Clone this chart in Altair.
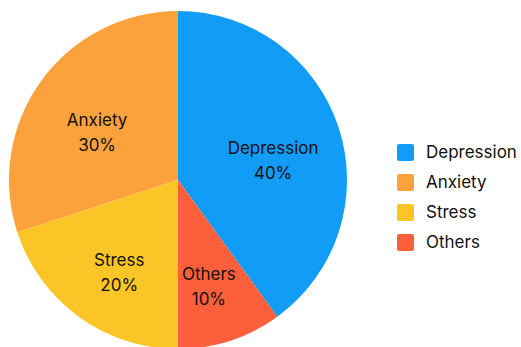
import altair as alt
import pandas as pd

categories = ["Depression", "Anxiety", "Stress", "Others"]
values = [40, 30, 20, 10]
colors = ["#119cf7", "#fba23d", "#fcc527", "#fd5f3b"]
clockwise_order = ["Depression", "Others", "Stress", "Anxiety"]

df = pd.DataFrame({
    "category": categories,
    "value": values,
    "rank": [clockwise_order.index(c) for c in categories],
})
df["label"] = [f"{c}\n{v}%" for c, v in zip(categories, values)]

FONT = "Inter"
rounded_square = ("M -0.75 -1 L 0.75 -1 Q 1 -1 1 -0.75 L 1 0.75 Q 1 1 0.75 1 "
                  "L -0.75 1 Q -1 1 -1 0.75 L -1 -0.75 Q -1 -1 -0.75 -1 Z")

base = alt.Chart(df).encode(
    theta=alt.Theta("value:Q", stack=True),
    order=alt.Order("rank:Q"),
    x=alt.value(178),
    y=alt.value(180),
)

arcs = base.mark_arc(outerRadius=169, stroke=None).encode(
    color=alt.Color(
        "category:N",
        scale=alt.Scale(domain=categories, range=colors),
        sort=categories,
        legend=alt.Legend(
            title=None,
            orient="none",
            legendX=397,
            legendY=144,
            symbolType=rounded_square,
            symbolSize=289,
            symbolStrokeWidth=0,
            labelFont=FONT,
            labelFontSize=17,
            labelColor="#111111",
            labelOffset=12,
            rowPadding=12,
            padding=0,
        ),
    )
)

text = base.mark_text(
    radius=100, font=FONT, fontSize=17, color="#111111",
    lineBreak="\n", lineHeight=25, align="center", baseline="middle",
).encode(text="label:N")

chart = (arcs + text).properties(
    width=521, height=347, padding=0, autosize=alt.AutoSizeParams(type="none"),
    background="white",
).configure_view(stroke=None)

chart.save("out.html", embed_options={"renderer": "svg", "actions": False})
